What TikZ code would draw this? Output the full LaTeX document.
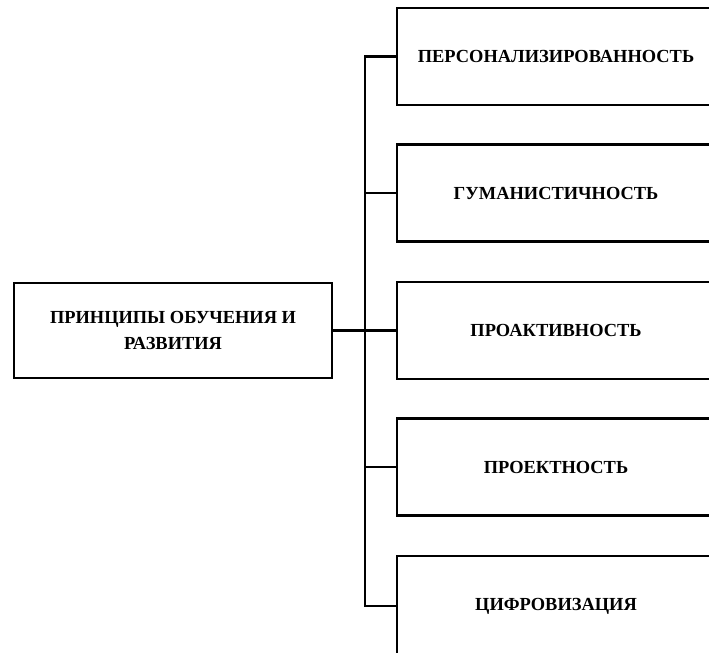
\documentclass[tikz,border=0pt]{standalone}
\usepackage{fontspec}
\setmainfont{Liberation Serif}
\usepackage{tikz}

\begin{document}
\begin{tikzpicture}[x=0.025cm,y=-0.025cm,
  box/.style={draw=black,line width=1.7pt,inner sep=0pt,outer sep=0pt,
    align=center,font=\fontsize{13.1}{18.2}\selectfont\bfseries},
  mainbox/.style={box,minimum width=7.95cm,minimum height=2.375cm},
  itembox/.style={box,minimum width=7.95cm,minimum height=2.425cm},
  link/.style={draw=black,line width=1.7pt}]
\useasboundingbox (0,0) rectangle (709,652);
\node [mainbox] (princ) at (173,330.5) {ПРИНЦИПЫ ОБУЧЕНИЯ И\\РАЗВИТИЯ};
\node [itembox] (pers) at (556,56.5) {ПЕРСОНАЛИЗИРОВАННОСТЬ};
\node [itembox] (gum) at (556,193) {ГУМАНИСТИЧНОСТЬ};
\node [itembox] (proakt) at (556,330.5) {ПРОАКТИВНОСТЬ};
\node [itembox] (proekt) at (556,467) {ПРОЕКТНОСТЬ};
\node [itembox,minimum height=2.5cm] (cifr) at (556,606) {ЦИФРОВИЗАЦИЯ};
\coordinate (spine) at (365,330.5);
\draw [link] (princ.east) -- (proakt.west);
\draw [link] (spine) |- (pers.west);
\draw [link] (spine) |- (gum.west);
\draw [link] (spine) |- (proekt.west);
\draw [link] (spine) |- (cifr.west);
\end{tikzpicture}
\end{document}
